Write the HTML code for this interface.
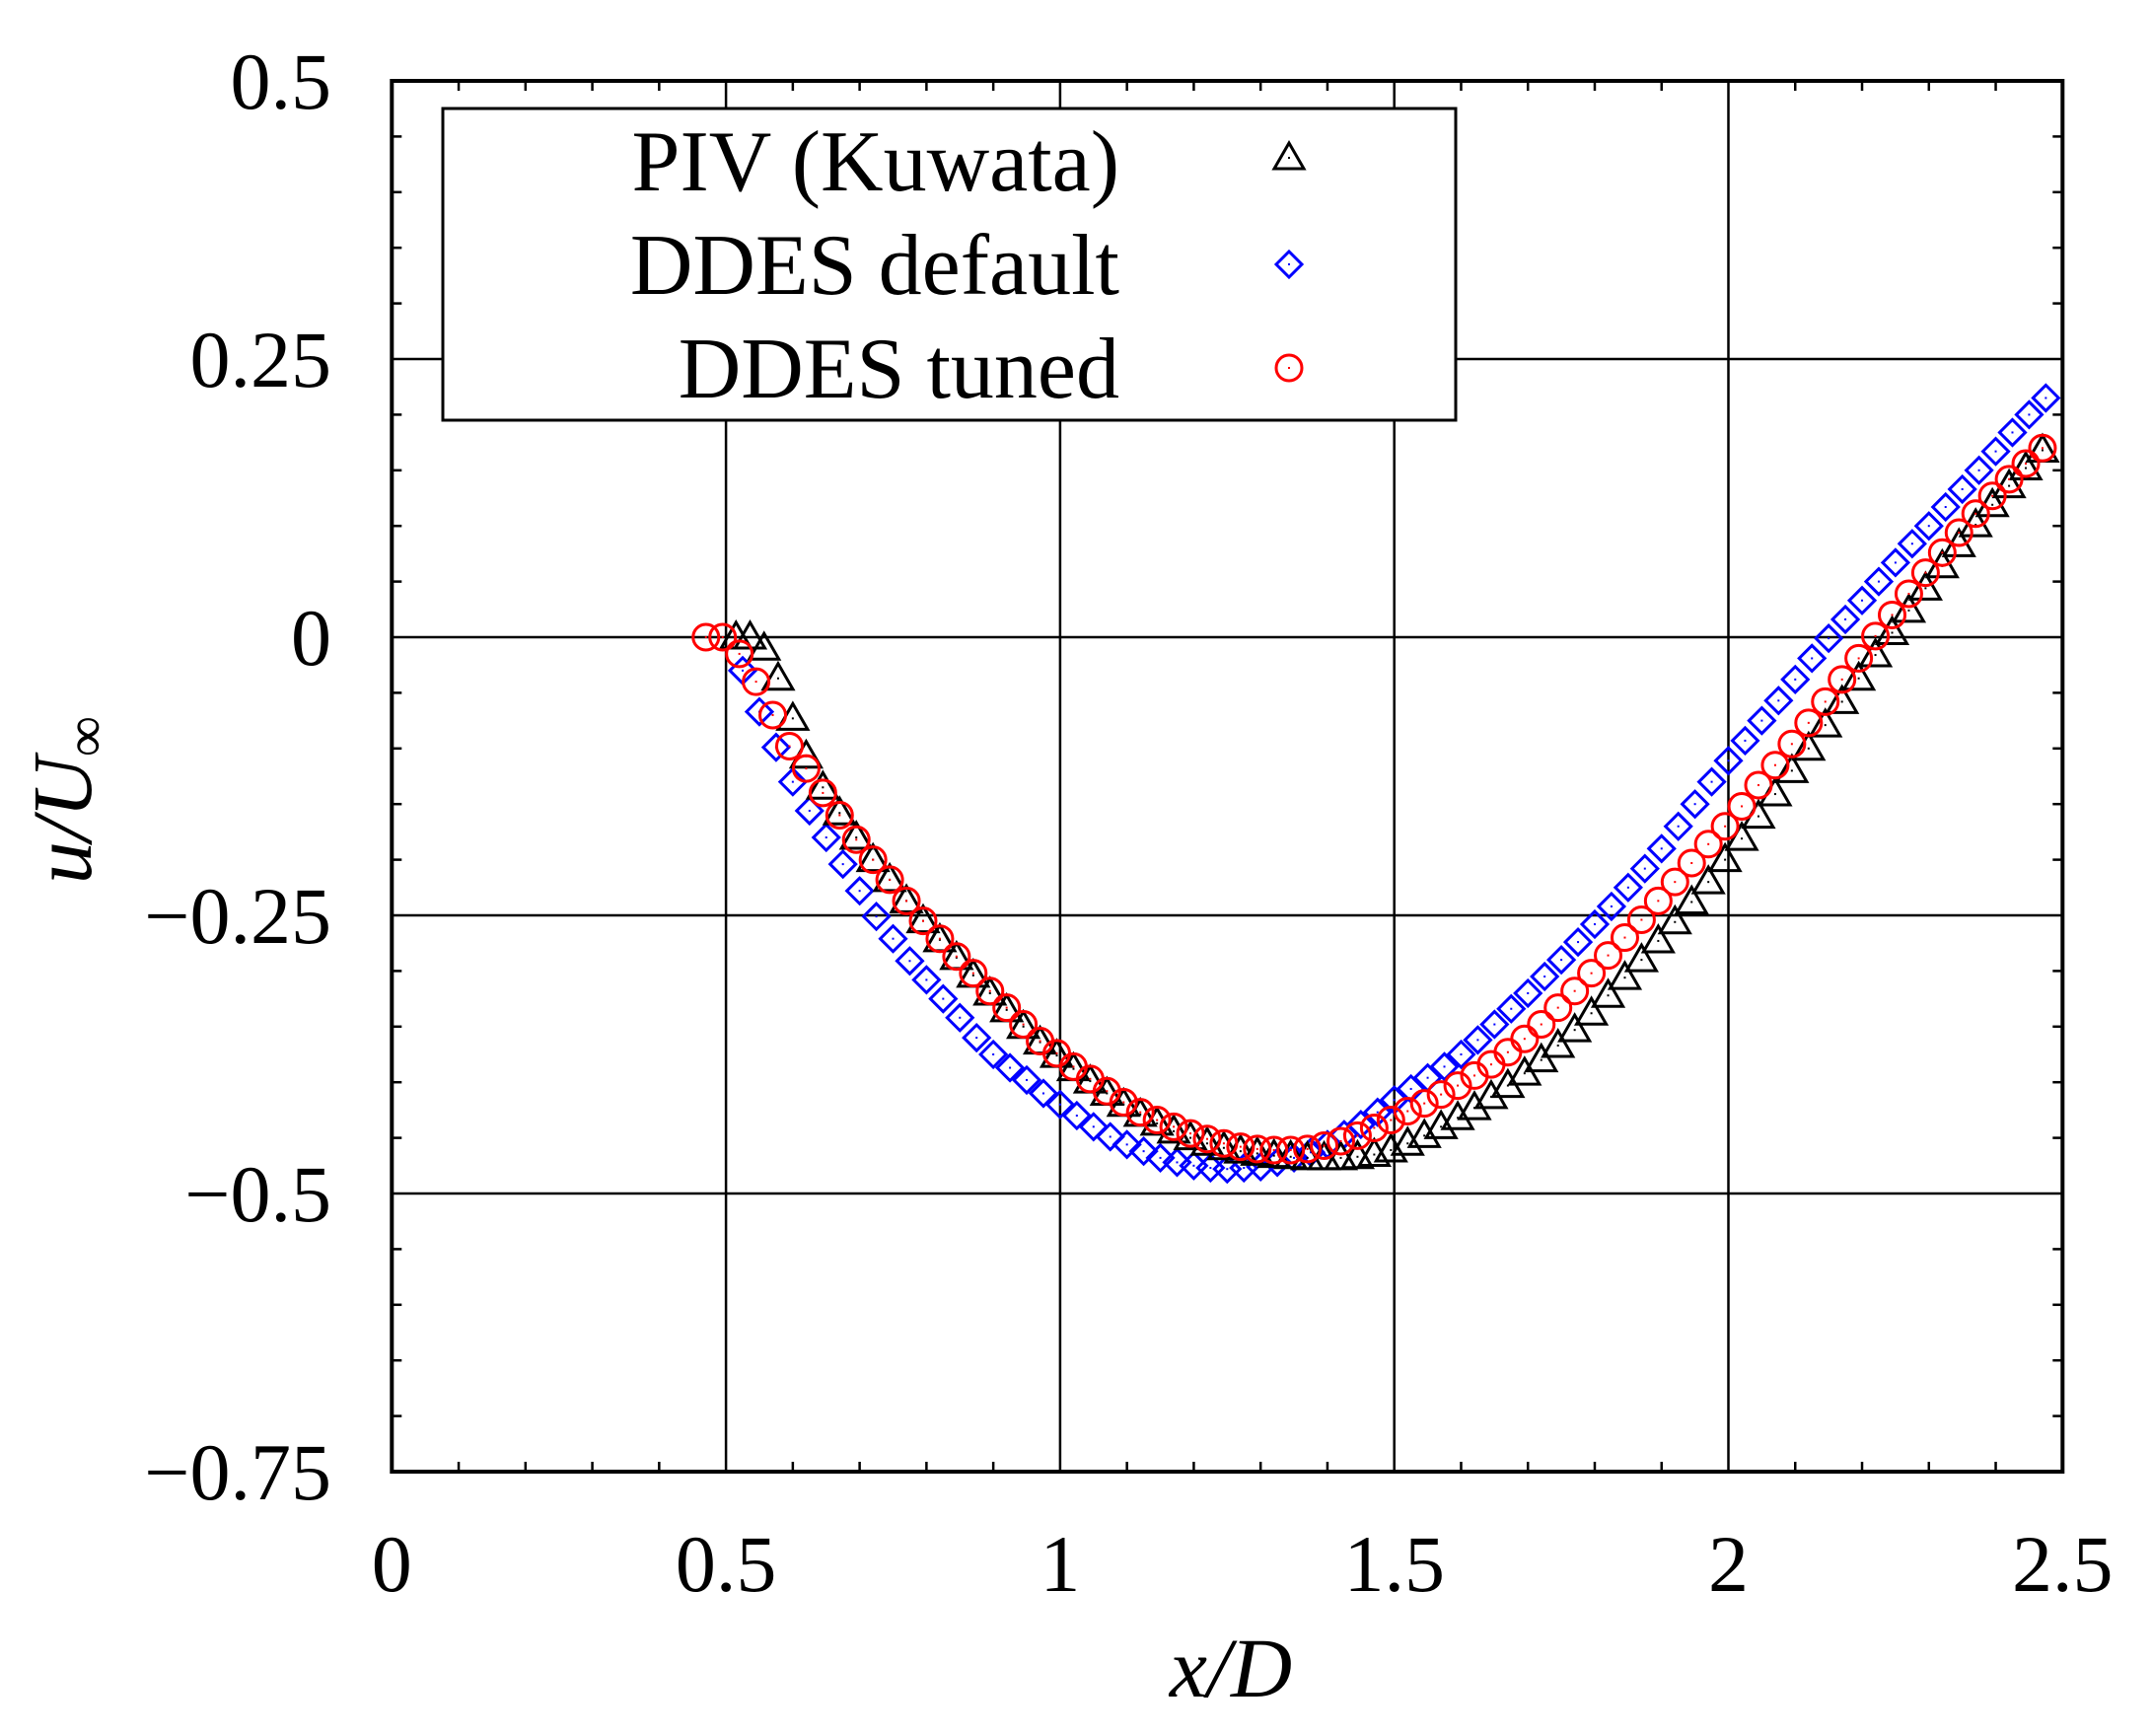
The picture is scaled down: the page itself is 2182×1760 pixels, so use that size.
<!DOCTYPE html>
<html><head><meta charset="utf-8"><style>
html,body{margin:0;padding:0;background:#fff;}
svg{display:block;}
text{font-family:"Liberation Serif",serif;fill:#000;}
</style></head><body>
<svg id="chart" width="2182" height="1760" viewBox="0 0 2182 1760" xmlns="http://www.w3.org/2000/svg">
<g id="grid"></g>
<g id="ticks"></g>
<g id="series"></g>
<rect x="397.3" y="82" width="1694" height="1410" fill="none" stroke="#000" stroke-width="4"/>
<g id="labels"></g>
<text x="1248" y="1720" font-size="86" font-style="italic" text-anchor="middle">x/D</text>
<text transform="translate(92,811) rotate(-90)" font-size="86" font-style="italic" text-anchor="middle">u/U<tspan font-size="58" dy="14" font-style="normal">∞</tspan></text>
<g>
<rect x="449" y="110" width="1027" height="316" fill="#fff" stroke="#000" stroke-width="3"/>
<text x="1135" y="193" font-size="88" text-anchor="end">PIV (Kuwata)</text>
<text x="1135" y="298" font-size="88" text-anchor="end">DDES default</text>
<text x="1135" y="403" font-size="88" text-anchor="end">DDES tuned</text>
<g id="legmarks"></g>
</g>
</svg>
<script>
const xTicks=[0,0.5,1,1.5,2,2.5];
const xTickLabels=["0","0.5","1","1.5","2","2.5"];
const yTicks=[0.5,0.25,0,-0.25,-0.5,-0.75];
const yTickLabels=["0.5","0.25","0","\u22120.25","\u22120.5","\u22120.75"];

const pivX0=[0.515,0.536,0.557,0.578,0.6,0.62];
const pivY0=[0.0,0.0,-0.01,-0.037,-0.073,-0.107];
const pivStart=0.645, pivStep=0.025;
const pivY=[-0.135,-0.158,-0.18,-0.2,-0.218,-0.237,-0.255,-0.272,-0.288,-0.304,-0.32,-0.335,-0.35,-0.364,-0.376,-0.388,-0.399,-0.41,-0.42,-0.429,-0.437,-0.444,-0.45,-0.455,-0.459,-0.462,-0.464,-0.466,-0.467,-0.468,-0.468,-0.468,-0.467,-0.465,-0.461,-0.455,-0.448,-0.44,-0.432,-0.423,-0.413,-0.403,-0.392,-0.38,-0.367,-0.353,-0.338,-0.322,-0.306,-0.29,-0.273,-0.256,-0.238,-0.22,-0.2,-0.181,-0.161,-0.141,-0.12,-0.1,-0.079,-0.058,-0.037,-0.016,0.004,0.024,0.044,0.064,0.083,0.101,0.119,0.136,0.152,0.168];

const defStart=0.525, defStep=0.025;
const defY=[-0.03,-0.067,-0.099,-0.13,-0.156,-0.18,-0.204,-0.228,-0.251,-0.271,-0.291,-0.308,-0.325,-0.342,-0.36,-0.375,-0.387,-0.398,-0.41,-0.42,-0.43,-0.44,-0.449,-0.456,-0.462,-0.468,-0.472,-0.475,-0.477,-0.478,-0.477,-0.476,-0.472,-0.468,-0.463,-0.456,-0.447,-0.438,-0.427,-0.416,-0.406,-0.396,-0.386,-0.375,-0.362,-0.348,-0.334,-0.32,-0.305,-0.29,-0.274,-0.258,-0.242,-0.225,-0.208,-0.19,-0.17,-0.15,-0.13,-0.111,-0.093,-0.075,-0.057,-0.038,-0.019,-0.001,0.016,0.033,0.05,0.067,0.084,0.1,0.117,0.133,0.15,0.167,0.184,0.2,0.215];

const tunStart=0.47, tunStep=0.025;
const tunY=[0,0,-0.015,-0.04,-0.07,-0.098,-0.118,-0.14,-0.16,-0.182,-0.2,-0.218,-0.237,-0.255,-0.271,-0.287,-0.302,-0.318,-0.333,-0.348,-0.363,-0.374,-0.386,-0.397,-0.408,-0.418,-0.427,-0.434,-0.44,-0.446,-0.451,-0.455,-0.458,-0.46,-0.461,-0.461,-0.46,-0.457,-0.453,-0.448,-0.441,-0.434,-0.426,-0.419,-0.411,-0.403,-0.394,-0.384,-0.373,-0.361,-0.348,-0.333,-0.318,-0.302,-0.286,-0.27,-0.254,-0.237,-0.22,-0.203,-0.186,-0.17,-0.152,-0.133,-0.115,-0.096,-0.077,-0.058,-0.038,-0.019,0.001,0.02,0.039,0.058,0.076,0.094,0.111,0.127,0.142,0.156,0.17];

const NS="http://www.w3.org/2000/svg";
const X0=397.3, XS=677.6, Y0=646, YS=1128;
function sx(v){return X0+v*XS;}
function sy(v){return Y0-v*YS;}
function mk(tag,attrs,parent){const e=document.createElementNS(NS,tag);for(const k in attrs)e.setAttribute(k,attrs[k]);parent.appendChild(e);return e;}

const grid=document.getElementById('grid'), ticks=document.getElementById('ticks'), labels=document.getElementById('labels');
xTicks.forEach((v,i)=>{
  const l=mk('line',{x1:sx(v),x2:sx(v),y1:sy(0.5),y2:sy(-0.75),stroke:'#000','stroke-width':2.5},grid);
  
  
  const t=mk('text',{x:sx(v),y:1613,'font-size':82,'text-anchor':'middle'},labels);
  t.textContent=xTickLabels[i];
  
  
});
yTicks.forEach((v,i)=>{
  const l=mk('line',{x1:sx(0),x2:sx(2.5),y1:sy(v),y2:sy(v),stroke:'#000','stroke-width':2.5},grid);
  
  
  const t=mk('text',{x:336,y:sy(v)+28,'font-size':82,'text-anchor':'end'},labels);
  t.textContent=yTickLabels[i];
  
  
});
for(let i=1;i<25;i++){
  if(i%5===0)continue;
  const x=sx(i*0.1);
  const a=mk('line',{x1:x,x2:x,y1:sy(-0.75),y2:sy(-0.75)-10,stroke:'#000','stroke-width':2.5},ticks);
  
  
  const b=mk('line',{x1:x,x2:x,y1:sy(0.5),y2:sy(0.5)+10,stroke:'#000','stroke-width':2.5},ticks);
  
  
}
for(let i=1;i<25;i++){
  if(i%5===0)continue;
  const y=sy(0.5-i*0.05);
  const a=mk('line',{x1:sx(0),x2:sx(0)+10,y1:y,y2:y,stroke:'#000','stroke-width':2.5},ticks);
  
  
  const b=mk('line',{x1:sx(2.5),x2:sx(2.5)-10,y1:y,y2:y,stroke:'#000','stroke-width':2.5},ticks);
  
  
}

function tri(cx,cy,g,name){
  const p=mk('polygon',{points:`${cx-15},${cy+11} ${cx+15},${cy+11} ${cx},${cy-15}`,fill:'none',stroke:'#000','stroke-width':3},g);
  
  
  mk('rect',{x:cx-1,y:cy-1,width:2,height:2,fill:'#000'},g);
}
function dia(cx,cy,g,name){
  const p=mk('polygon',{points:`${cx-13},${cy} ${cx},${cy-13} ${cx+13},${cy} ${cx},${cy+13}`,fill:'none',stroke:'#0000ff','stroke-width':3},g);
  
  
  mk('rect',{x:cx-1,y:cy-1,width:2,height:2,fill:'#0000ff'},g);
}
function cir(cx,cy,g,name){
  const p=mk('circle',{cx:cx,cy:cy,r:13,fill:'none',stroke:'#ff0000','stroke-width':3},g);
  
  
  mk('rect',{x:cx-1,y:cy-1,width:2,height:2,fill:'#ff0000'},g);
}
const series=document.getElementById('series');
const gDef=mk('g',{},series);


const gPiv=mk('g',{},series);


const gTun=mk('g',{},series);



defY.forEach((v,i)=>dia(sx(defStart+i*defStep),sy(v),gDef,'ddes-default-point'));
pivX0.forEach((x,i)=>tri(sx(x),sy(pivY0[i]),gPiv,'piv-point'));
pivY.forEach((v,i)=>tri(sx(pivStart+i*pivStep),sy(v),gPiv,'piv-point'));
tunY.forEach((v,i)=>cir(sx(tunStart+i*tunStep),sy(v),gTun,'ddes-tuned-point'));

const lm=document.getElementById('legmarks');
tri(1307,160,lm,'legend-marker-piv');
dia(1307,268,lm,'legend-marker-ddes-default');
cir(1307,373,lm,'legend-marker-ddes-tuned');
</script>
</body></html>
